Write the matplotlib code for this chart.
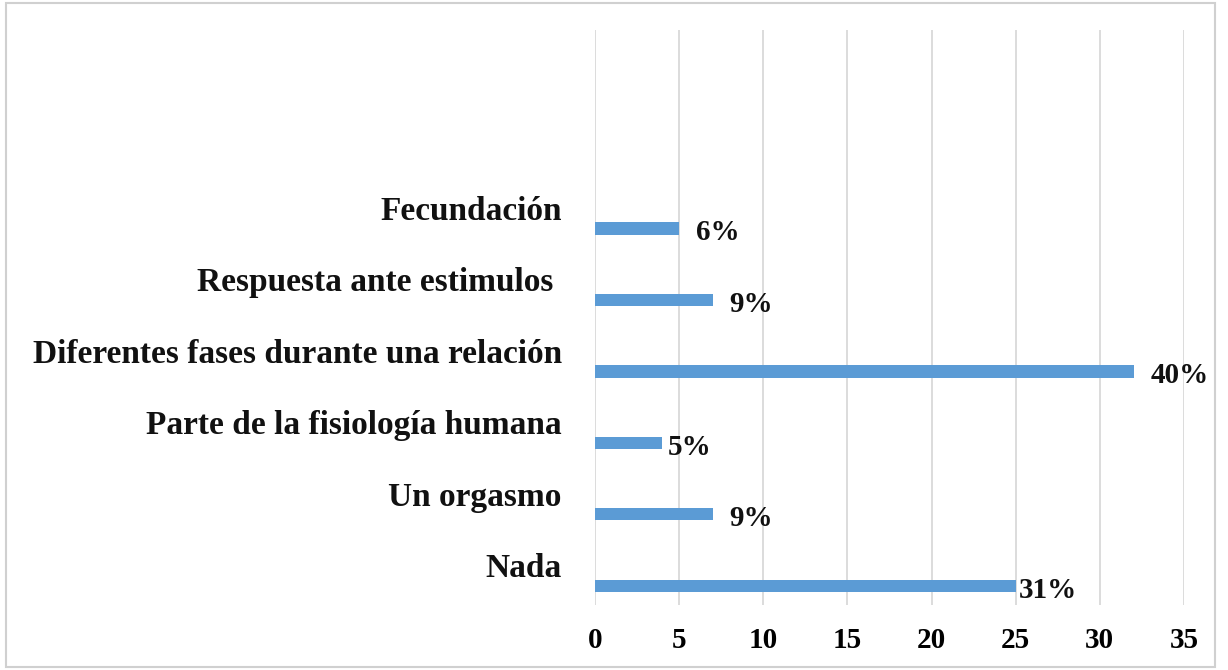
import numpy as np
import matplotlib
matplotlib.use('Agg')
import matplotlib.pyplot as plt

categories = ['Nada', 'Un orgasmo', 'Parte de la fisiología humana',
              'Diferentes fases durante una relación', 'Respuesta ante estimulos ',
              'Fecundación']
counts = [25, 7, 4, 32, 7, 5]
percent_labels = ['31%', '9%', '5%', '40%', '9%', '6%']
xticks = [0, 5, 10, 15, 20, 25, 30, 35]

plt.rcParams['font.family'] = ['Liberation Serif', 'DejaVu Serif']

fig = plt.figure(figsize=(12.28, 6.70), dpi=100)
ax = fig.add_axes([595 / 1228, 65 / 670, 589 / 1228, 575 / 670])

y = np.arange(len(categories))
ax.barh(y, counts, height=0.17, color='#5B9BD5', zorder=3)

# gap (points) between bar end and its label, as in the original
label_pads = [2, 12, 4, 12, 12, 12]
for yi, c, lab, p in zip(y, counts, percent_labels, label_pads):
    ax.annotate(lab, (c, yi - 0.06), xytext=(p, 0), textcoords='offset points',
                ha='left', va='center', fontsize=21, fontweight='bold',
                color='#111111', zorder=4)

# category labels sit above the bars, right aligned left of the axis
for yi, cat in zip(y, categories):
    ax.annotate(cat, (0, yi + 0.24), xytext=(-24, 0), textcoords='offset points',
                ha='right', va='center', fontsize=24, fontweight='bold',
                color='#111111', annotation_clip=False)

ax.set_xlim(0, 35)
ax.set_ylim(-0.27, 7.78)
ax.set_xticks(xticks)
ax.set_xticklabels([str(t) for t in xticks], fontsize=21, fontweight='bold')
ax.set_yticks([])
ax.tick_params(axis='x', length=0, pad=16)
ax.grid(axis='x', color='#D9D9D9', linewidth=1.3, zorder=0)
for s in ax.spines.values():
    s.set_visible(False)

# outer frame
fig.patches.append(plt.Rectangle((6 / 1228, 3 / 670), 1209 / 1228, 664 / 670,
                                 transform=fig.transFigure, fill=False,
                                 edgecolor='#D0D0D0', linewidth=1.5))

fig.savefig('out.png', dpi=100)
